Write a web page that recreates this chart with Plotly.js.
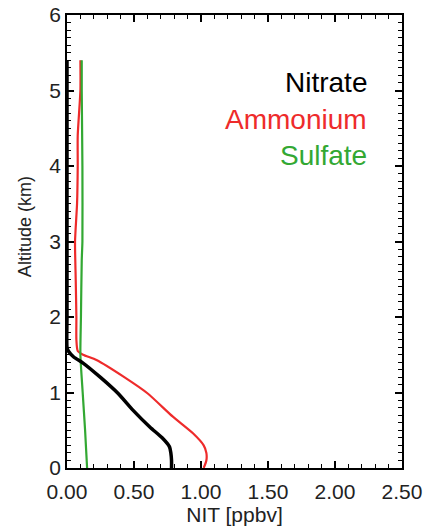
<!DOCTYPE html>
<html>
<head>
<meta charset="utf-8">
<script src="https://cdn.plot.ly/plotly-3.0.1.min.js"></script>
<style>html,body{margin:0;padding:0;background:#fff;overflow:hidden;}#chart{width:428px;height:532px;}#warm{position:absolute;left:-2000px;top:0;width:200px;height:150px;}</style>
</head>
<body>
<div id="chart"></div>
<div id="warm"></div>
<script>
// Series names and colours
var seriesNames = ["Nitrate", "Ammonium", "Sulfate"];
var seriesColors = ["#000000", "#ee2b2b", "#33a833"];

// Nitrate profile
var altNitrate = [0, 0.1, 0.2, 0.28, 0.4, 0.54, 0.77, 0.99, 1.2, 1.39, 1.47, 1.55, 1.6, 2.0, 3.0, 4.0, 5.0, 5.4];
var nitrate    = [0.78, 0.78, 0.775, 0.765, 0.71, 0.62, 0.49, 0.38, 0.25, 0.12, 0.05, 0.01, 0.0, 0.0, 0.0, 0.0, 0.0, 0.0];

// Ammonium profile
var altAmmonium = [0, 0.1, 0.2, 0.3, 0.46, 0.68, 0.99, 1.2, 1.43, 1.5, 1.55, 1.7, 2.0, 2.5, 3.0, 3.5, 4.0, 4.4, 5.0, 5.4];
var ammonium    = [1.02, 1.04, 1.04, 1.02, 0.94, 0.79, 0.60, 0.43, 0.22, 0.12, 0.08, 0.07, 0.07, 0.065, 0.06, 0.075, 0.08, 0.08, 0.1, 0.1];

// Sulfate profile
var altSulfate = [0, 0.5, 1.0, 1.5, 2.0, 2.75, 3.0, 4.0, 5.0, 5.4];
var sulfate    = [0.15, 0.135, 0.117, 0.10, 0.104, 0.11, 0.115, 0.115, 0.11, 0.11];

// Axis titles
var xTitle = "NIT [ppbv]";
var yTitle = "Altitude (km)";

var xs = [nitrate, ammonium, sulfate];
var ys = [altNitrate, altAmmonium, altSulfate];
var widths = [3.5, 2.2, 2.2];

var font = "'Liberation Sans', Arial, Helvetica, sans-serif";

function buildTraces() {
  var traces = [];
  [1, 2, 0].forEach(function (i) {
    traces.push({
      x: xs[i], y: ys[i], type: "scatter", mode: "lines",
      name: seriesNames[i],
      line: {color: seriesColors[i], width: widths[i], shape: "spline", smoothing: 0.6},
      showlegend: false, hoverinfo: "skip"
    });
  });
  return traces;
}

function axis(extra) {
  var a = {
    showgrid: false, zeroline: false, showline: true, linecolor: "#000", linewidth: 1.5,
    mirror: "allticks", ticks: "inside", ticklen: 7, tickwidth: 1.5, tickcolor: "#000",
    tickfont: {family: font, size: 21, color: "#222"},
    minor: {dtick: 0.1, ticks: "inside", ticklen: 4, tickcolor: "#000", tickwidth: 1}
  };
  for (var k in extra) a[k] = extra[k];
  return a;
}

function buildLayout() {
  var annYs = [5.1, 4.62, 4.14];
  var annotations = seriesNames.map(function (n, i) {
    return {
      text: n, x: 0.90, xref: "paper", y: annYs[i], yref: "y",
      xanchor: "right", yanchor: "middle", showarrow: false,
      font: {family: font, size: 28, color: seriesColors[i]}
    };
  });
  annotations.push({
    text: yTitle, textangle: -90, x: -0.125, xref: "paper", y: 0.532, yref: "paper",
    xanchor: "center", yanchor: "middle", showarrow: false,
    font: {family: font, size: 18, color: "#222"}
  });
  return {
    width: 428, height: 532,
    margin: {l: 67, r: 26, t: 15, b: 64},
    xaxis: axis({
      range: [0, 2.5], tick0: 0, dtick: 0.5, tickformat: ".2f", ticklabelstandoff: 4,
      title: {text: xTitle, font: {family: font, size: 21, color: "#222"}, standoff: 0}
    }),
    yaxis: axis({
      range: [0, 6], tick0: 0, dtick: 1
    }),
    annotations: annotations
  };
}

var cfg = {displayModeBar: false};
// Warm-up draw off screen, then the real chart
Plotly.newPlot("warm", [{x: [0, 1], y: [0, 1], type: "scatter", mode: "lines"}],
  {width: 200, height: 150, margin: {l: 20, r: 5, t: 5, b: 20},
   xaxis: axis({range: [0, 1]}), yaxis: axis({range: [0, 1]})}, cfg);
Plotly.newPlot("chart", buildTraces(), buildLayout(), cfg);
</script>
</body>
</html>
